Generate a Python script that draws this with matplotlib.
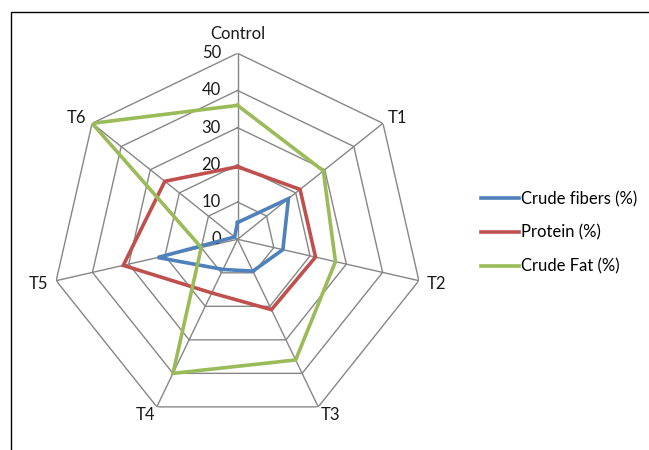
import numpy as np
import matplotlib
matplotlib.use('Agg')
import matplotlib.pyplot as plt
from matplotlib.patches import Rectangle

categories = ['Control', 'T1', 'T2', 'T3', 'T4', 'T5', 'T6']
crude_fibers = [4.5, 17.5, 12.5, 9.5, 9, 22, 1]
protein = [19.5, 21.5, 21.5, 21, 16, 31.5, 25]
crude_fat = [36, 29.5, 27, 36, 40, 10, 50]
series_names = ['Crude fibers (%)', 'Protein (%)', 'Crude Fat (%)']
r_ticks = [0, 10, 20, 30, 40, 50]

colors = ['#4F81BD', '#C0504D', '#9BBB59']
grid_color = '#868686'

plt.rcParams['font.family'] = ['Lato', 'DejaVu Sans']
plt.rcParams['font.size'] = 12

fig = plt.figure(figsize=(6.49, 4.5), dpi=100)
ax = fig.add_axes([0.0794, 0.0549, 0.5732, 0.8267], projection='polar')
ax.set_theta_offset(np.pi / 2)
ax.set_theta_direction(-1)
ax.set_ylim(0, 50)
ax.grid(False)
ax.spines['polar'].set_visible(False)
ax.set_xticks([])
ax.set_yticks([])
ax.patch.set_alpha(0)

n = len(categories)
theta = np.arange(n) * 2 * np.pi / n
closed = np.append(theta, theta[0])

# polygon gridlines and spokes
for lvl in r_ticks[1:]:
    ax.plot(closed, [lvl] * (n + 1), color=grid_color, lw=1, zorder=1)
for t in theta:
    ax.plot([t, t], [0, r_ticks[-1]], color=grid_color, lw=1, zorder=1)

# value labels along the Control spoke
for lvl in r_ticks:
    ax.annotate(str(lvl), xy=(0, lvl), xytext=(-12, 0), textcoords='offset points',
                ha='right', va='center', color='#1a1a1a')

# category labels just outside the outer ring
label_offsets = [(0, 14), (10.5, 4), (13, -2.5), (8.5, -6), (-8.5, -6), (-13, -2.5), (-11, 4)]
for t, name, off in zip(theta, categories, label_offsets):
    ax.annotate(name, xy=(t, r_ticks[-1]), xytext=off, textcoords='offset points',
                ha='center', va='center', color='#1a1a1a', annotation_clip=False)

lines = []
for vals, c in zip([crude_fibers, protein, crude_fat], colors):
    ln, = ax.plot(closed, vals + vals[:1], color=c, lw=2.6, zorder=3,
                  solid_joinstyle='miter')
    lines.append(ln)

fig.legend(lines, series_names, loc='upper left', bbox_to_anchor=(481 / 649, 1 - 191 / 450),
           frameon=False, handlelength=2.28, handletextpad=0.12, labelspacing=1.05,
           borderpad=0, borderaxespad=0)

# outer chart frame
fig.add_artist(Rectangle((11 / 649, -0.1), 1.0, 1 - 12 / 450 + 0.1, transform=fig.transFigure,
                         fill=False, ec='black', lw=1))

fig.savefig('out.png', dpi=100)
